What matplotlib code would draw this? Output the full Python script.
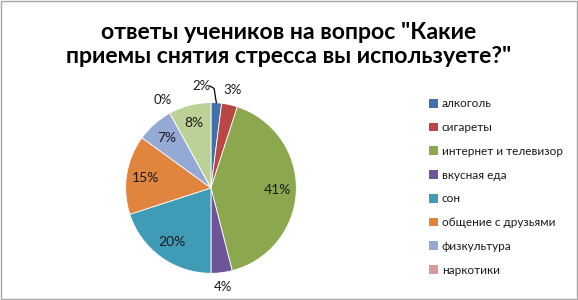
import numpy as np
import matplotlib
matplotlib.use("Agg")
import matplotlib.pyplot as plt
from matplotlib.patches import Rectangle, Patch

plt.rcParams['font.family'] = ['Lato', 'DejaVu Sans']

categories = ["алкоголь", "сигареты", "интернет и телевизор", "вкусная еда",
              "сон", "общение с друзьями", "физкультура", "наркотики", "другое"]
values = [2, 3, 41, 4, 20, 15, 7, 0, 8]
labels_pct = ["2%", "3%", "41%", "4%", "20%", "15%", "7%", "0%", "8%"]
legend_count = 8
colors = ["#4270AD", "#BB4744", "#8BA84F", "#6F5597", "#3F9BB6",
          "#E1843D", "#94AAD5", "#D99A99", "#BBD196"]
title = 'ответы учеников на вопрос "Какие\nприемы снятия стресса вы используете?"'

fig = plt.figure(figsize=(5.78, 3.0), dpi=100)
fig.patch.set_facecolor("white")
fig.add_artist(Rectangle((0.001, 0.002), 0.997, 0.994, transform=fig.transFigure,
                         fill=False, edgecolor="#A6A6A6", linewidth=1.0))

ax = fig.add_axes([0.173, 0.003, 0.384, 0.741])
wedges, _ = ax.pie(values, colors=colors, startangle=90, counterclock=False,
                   radius=1.0, wedgeprops=dict(edgecolor="white", linewidth=0.6))
ax.set_xlim(-1.3, 1.3)
ax.set_ylim(-1.3, 1.3)
ax.set_aspect("equal")
ax.axis("off")

for w, v, lab in zip(wedges, values, labels_pct):
    mid = np.deg2rad((w.theta1 + w.theta2) / 2.0)
    if v >= 5:
        r = 0.78
        ax.text(r * np.cos(mid), r * np.sin(mid), lab, ha="center", va="center",
                fontsize=10, color="#1a1a1a")
    elif lab == "2%":
        ang = mid + np.deg2rad(9)
        r = 1.2
        tx, ty = r * np.cos(ang), r * np.sin(ang)
        ax.text(tx, ty, lab, ha="center", va="center", fontsize=9.5, color="#1a1a1a")
        ex, ey = np.cos(mid), np.sin(mid)
        ax.plot([tx + 0.1, tx + 0.15, ex], [ty, ty - 0.03, ey], color="black", lw=0.9)
    else:
        r = 1.17
        ax.text(r * np.cos(mid), r * np.sin(mid), lab, ha="center", va="center",
                fontsize=9.5, color="#1a1a1a")

fig.text(0.5, 0.852, title, ha="center", va="center", fontsize=16.6,
         fontweight="bold", linespacing=1.17, color="black")

handles = [Patch(facecolor=colors[i], edgecolor="none") for i in range(legend_count)]
fig.legend(handles, categories[:legend_count], loc="upper left",
           bbox_to_anchor=(0.743, 0.672), frameon=False, fontsize=8.5,
           handlelength=0.75, handleheight=0.75, handletextpad=0.3,
           labelspacing=1.08, borderaxespad=0, borderpad=0, labelcolor="#1a1a1a")

fig.savefig("out.png", dpi=100)
